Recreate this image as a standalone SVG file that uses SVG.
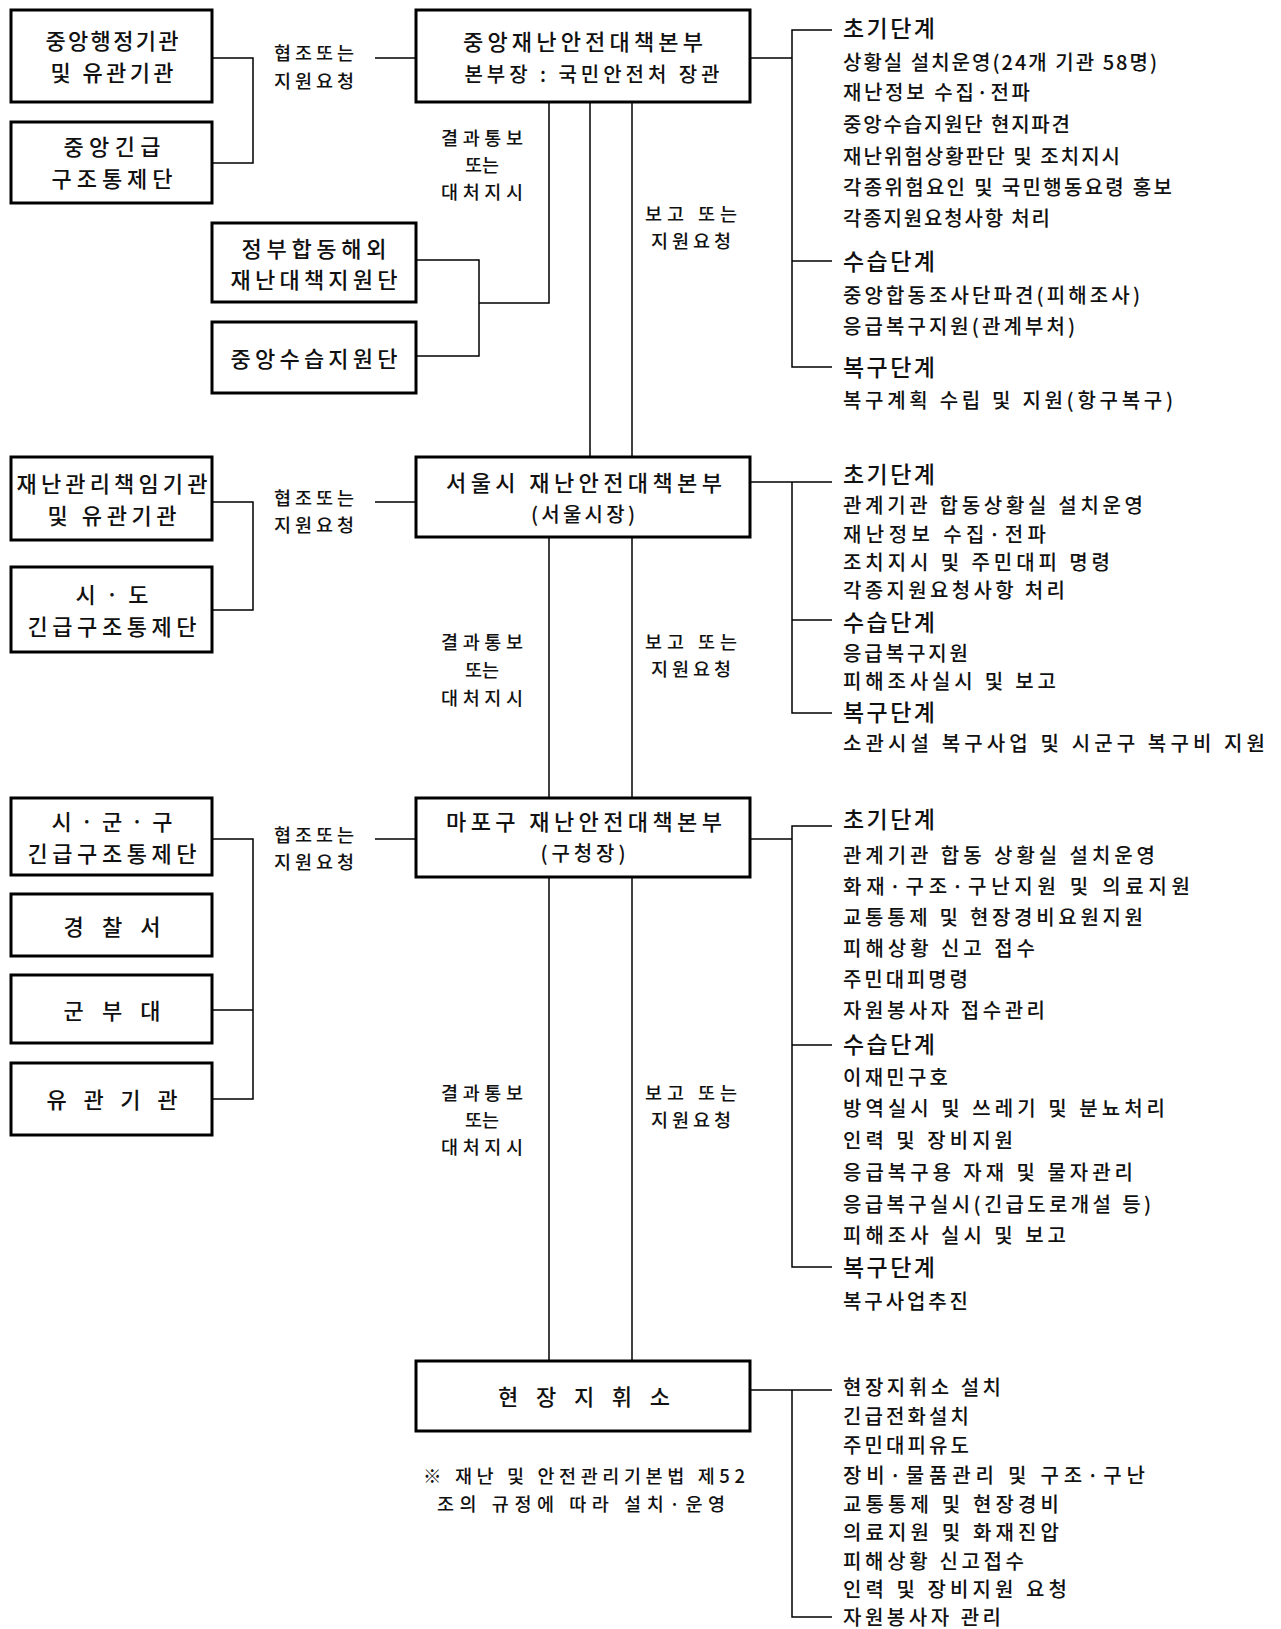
<svg xmlns="http://www.w3.org/2000/svg" width="1281" height="1629" viewBox="0 0 1281 1629">
<style>
.box{fill:#fff;stroke:#000;stroke-width:3}
.ln{stroke:#000;stroke-width:1.5;fill:none}
text{font-family:"Noto Sans CJK KR","Noto Sans",sans-serif;fill:#111;dominant-baseline:central;font-weight:500}
.bx{font-size:22px;text-anchor:middle}
.sub{font-size:20px;text-anchor:middle}
.lab{font-size:18.5px;text-anchor:middle}
.h{font-size:23px}
.it{font-size:20px}
.nt{font-size:18.5px;text-anchor:middle}
</style>
<rect width="1281" height="1629" fill="#fff"/>

<g id="connectors">
  <polyline class="ln" points="212,58 253,58 253,163 212,163"/>
  <line class="ln" x1="375" y1="58" x2="416" y2="58"/>
  <polyline class="ln" points="549,102 549,303 479,303"/>
  <polyline class="ln" points="416,260 479,260 479,356 416,356"/>
  <line class="ln" x1="590" y1="102" x2="590" y2="457"/>
  <line class="ln" x1="632" y1="102" x2="632" y2="457"/>
  <line class="ln" x1="750" y1="58" x2="792" y2="58"/>
  <polyline class="ln" points="832,30 792,30 792,367 832,367"/>
  <line class="ln" x1="792" y1="261" x2="832" y2="261"/>
  <polyline class="ln" points="212,502 253,502 253,610 212,610"/>
  <line class="ln" x1="375" y1="502" x2="416" y2="502"/>
  <line class="ln" x1="750" y1="482" x2="832" y2="482"/>
  <polyline class="ln" points="792,482 792,713 832,713"/>
  <line class="ln" x1="792" y1="620" x2="832" y2="620"/>
  <line class="ln" x1="549" y1="537" x2="549" y2="798"/>
  <line class="ln" x1="632" y1="537" x2="632" y2="798"/>
  <polyline class="ln" points="212,839 253,839 253,1099 212,1099"/>
  <line class="ln" x1="212" y1="1010" x2="253" y2="1010"/>
  <line class="ln" x1="375" y1="839" x2="416" y2="839"/>
  <line class="ln" x1="750" y1="839" x2="792" y2="839"/>
  <polyline class="ln" points="832,826 792,826 792,1267 832,1267"/>
  <line class="ln" x1="792" y1="1045" x2="832" y2="1045"/>
  <line class="ln" x1="549" y1="877" x2="549" y2="1361"/>
  <line class="ln" x1="632" y1="877" x2="632" y2="1361"/>
  <line class="ln" x1="750" y1="1390" x2="832" y2="1390"/>
  <polyline class="ln" points="792,1390 792,1617 832,1617"/>
</g>

<g id="labels">
  <text class="lab" x="314" y="52" textLength="80" lengthAdjust="spacing">협조또는</text>
  <text class="lab" x="314" y="80" textLength="80" lengthAdjust="spacing">지원요청</text>
  <text class="lab" x="482" y="137" textLength="82" lengthAdjust="spacing">결과통보</text>
  <text class="lab" x="482" y="164">또는</text>
  <text class="lab" x="482" y="191" textLength="82" lengthAdjust="spacing">대처지시</text>
  <text class="lab" x="691" y="213" textLength="92" lengthAdjust="spacing">보고 또는</text>
  <text class="lab" x="691" y="240" textLength="80" lengthAdjust="spacing">지원요청</text>

  <text class="lab" x="314" y="497" textLength="80" lengthAdjust="spacing">협조또는</text>
  <text class="lab" x="314" y="524" textLength="80" lengthAdjust="spacing">지원요청</text>
  <text class="lab" x="482" y="641" textLength="82" lengthAdjust="spacing">결과통보</text>
  <text class="lab" x="482" y="669">또는</text>
  <text class="lab" x="482" y="697" textLength="82" lengthAdjust="spacing">대처지시</text>
  <text class="lab" x="691" y="641" textLength="92" lengthAdjust="spacing">보고 또는</text>
  <text class="lab" x="691" y="668" textLength="80" lengthAdjust="spacing">지원요청</text>

  <text class="lab" x="314" y="834" textLength="80" lengthAdjust="spacing">협조또는</text>
  <text class="lab" x="314" y="861" textLength="80" lengthAdjust="spacing">지원요청</text>
  <text class="lab" x="482" y="1092" textLength="82" lengthAdjust="spacing">결과통보</text>
  <text class="lab" x="482" y="1119">또는</text>
  <text class="lab" x="482" y="1146" textLength="82" lengthAdjust="spacing">대처지시</text>
  <text class="lab" x="691" y="1092" textLength="92" lengthAdjust="spacing">보고 또는</text>
  <text class="lab" x="691" y="1119" textLength="80" lengthAdjust="spacing">지원요청</text>
</g>

<g id="n-central-admin">
  <rect class="box" x="11" y="10" width="201" height="92"/>
  <text class="bx" x="112" y="39" textLength="133" lengthAdjust="spacing">중앙행정기관</text>
  <text class="bx" x="112" y="71" textLength="123" lengthAdjust="spacing">및 유관기관</text>
</g>
<g id="n-central-rescue">
  <rect class="box" x="11" y="122" width="201" height="81"/>
  <text class="bx" x="112" y="145" textLength="97" lengthAdjust="spacing">중앙긴급</text>
  <text class="bx" x="112" y="177" textLength="121" lengthAdjust="spacing">구조통제단</text>
</g>
<g id="n-overseas">
  <rect class="box" x="212" y="223" width="204" height="79"/>
  <text class="bx" x="314" y="247" textLength="145" lengthAdjust="spacing">정부합동해외</text>
  <text class="bx" x="314" y="278" textLength="167" lengthAdjust="spacing">재난대책지원단</text>
</g>
<g id="n-central-recovery">
  <rect class="box" x="212" y="322" width="204" height="71"/>
  <text class="bx" x="314" y="357" textLength="167" lengthAdjust="spacing">중앙수습지원단</text>
</g>
<g id="n-central-hq">
  <rect class="box" x="416" y="10" width="334" height="92"/>
  <text class="bx" x="583" y="40" textLength="240" lengthAdjust="spacing">중앙재난안전대책본부</text>
  <text class="sub" x="592" y="73" textLength="255" lengthAdjust="spacing">본부장 : 국민안전처 장관</text>
</g>
<g id="n-central-tasks">
  <text class="h" x="843" y="27" textLength="92" lengthAdjust="spacing">초기단계</text>
  <text class="it" x="843" y="61" textLength="314" lengthAdjust="spacing">상황실 설치운영(24개 기관 58명)</text>
  <text class="it" x="843" y="91" textLength="187" lengthAdjust="spacing">재난정보 수집·전파</text>
  <text class="it" x="843" y="123" textLength="227" lengthAdjust="spacing">중앙수습지원단 현지파견</text>
  <text class="it" x="843" y="155" textLength="277" lengthAdjust="spacing">재난위험상황판단 및 조치지시</text>
  <text class="it" x="843" y="186" textLength="329" lengthAdjust="spacing">각종위험요인 및 국민행동요령 홍보</text>
  <text class="it" x="843" y="217" textLength="207" lengthAdjust="spacing">각종지원요청사항 처리</text>
  <text class="h" x="843" y="260" textLength="92" lengthAdjust="spacing">수습단계</text>
  <text class="it" x="843" y="294" textLength="297" lengthAdjust="spacing">중앙합동조사단파견(피해조사)</text>
  <text class="it" x="843" y="325" textLength="232" lengthAdjust="spacing">응급복구지원(관계부처)</text>
  <text class="h" x="843" y="366" textLength="92" lengthAdjust="spacing">복구단계</text>
  <text class="it" x="843" y="399" textLength="330" lengthAdjust="spacing">복구계획 수립 및 지원(항구복구)</text>
</g>

<g id="n-seoul-agencies">
  <rect class="box" x="11" y="457" width="201" height="83"/>
  <text class="bx" x="112" y="482" textLength="191" lengthAdjust="spacing">재난관리책임기관</text>
  <text class="bx" x="112" y="514" textLength="129" lengthAdjust="spacing">및 유관기관</text>
</g>
<g id="n-seoul-rescue">
  <rect class="box" x="11" y="567" width="201" height="85"/>
  <text class="bx" x="112" y="593" textLength="73" lengthAdjust="spacing">시 · 도</text>
  <text class="bx" x="112" y="625" textLength="169" lengthAdjust="spacing">긴급구조통제단</text>
</g>
<g id="n-seoul-hq">
  <rect class="box" x="416" y="457" width="334" height="80"/>
  <text class="bx" x="584" y="481" textLength="276" lengthAdjust="spacing">서울시 재난안전대책본부</text>
  <text class="sub" x="583" y="513" textLength="104" lengthAdjust="spacing">(서울시장)</text>
</g>
<g id="n-seoul-tasks">
  <text class="h" x="843" y="473" textLength="92" lengthAdjust="spacing">초기단계</text>
  <text class="it" x="843" y="504" textLength="300" lengthAdjust="spacing">관계기관 합동상황실 설치운영</text>
  <text class="it" x="843" y="533" textLength="203" lengthAdjust="spacing">재난정보 수집·전파</text>
  <text class="it" x="843" y="561" textLength="267" lengthAdjust="spacing">조치지시 및 주민대피 명령</text>
  <text class="it" x="843" y="589" textLength="222" lengthAdjust="spacing">각종지원요청사항 처리</text>
  <text class="h" x="843" y="621" textLength="92" lengthAdjust="spacing">수습단계</text>
  <text class="it" x="843" y="652" textLength="125" lengthAdjust="spacing">응급복구지원</text>
  <text class="it" x="843" y="680" textLength="213" lengthAdjust="spacing">피해조사실시 및 보고</text>
  <text class="h" x="843" y="711" textLength="92" lengthAdjust="spacing">복구단계</text>
  <text class="it" x="843" y="742" textLength="422" lengthAdjust="spacing">소관시설 복구사업 및 시군구 복구비 지원</text>
</g>

<g id="n-mapo-rescue">
  <rect class="box" x="11" y="798" width="201" height="77"/>
  <text class="bx" x="112" y="820" textLength="121" lengthAdjust="spacing">시·군·구</text>
  <text class="bx" x="112" y="852" textLength="169" lengthAdjust="spacing">긴급구조통제단</text>
</g>
<g id="n-police">
  <rect class="box" x="11" y="894" width="201" height="62"/>
  <text class="bx" x="112" y="925" textLength="97" lengthAdjust="spacing">경 찰 서</text>
</g>
<g id="n-military">
  <rect class="box" x="11" y="975" width="201" height="68"/>
  <text class="bx" x="112" y="1009" textLength="97" lengthAdjust="spacing">군 부 대</text>
</g>
<g id="n-related">
  <rect class="box" x="11" y="1063" width="201" height="72"/>
  <text class="bx" x="112" y="1098" textLength="131" lengthAdjust="spacing">유 관 기 관</text>
</g>
<g id="n-mapo-hq">
  <rect class="box" x="416" y="798" width="334" height="79"/>
  <text class="bx" x="584" y="820" textLength="276" lengthAdjust="spacing">마포구 재난안전대책본부</text>
  <text class="sub" x="583" y="852" textLength="85" lengthAdjust="spacing">(구청장)</text>
</g>
<g id="n-mapo-tasks">
  <text class="h" x="843" y="818" textLength="92" lengthAdjust="spacing">초기단계</text>
  <text class="it" x="843" y="854" textLength="312" lengthAdjust="spacing">관계기관 합동 상황실 설치운영</text>
  <text class="it" x="843" y="885" textLength="347" lengthAdjust="spacing">화재·구조·구난지원 및 의료지원</text>
  <text class="it" x="843" y="916" textLength="300" lengthAdjust="spacing">교통통제 및 현장경비요원지원</text>
  <text class="it" x="843" y="947" textLength="192" lengthAdjust="spacing">피해상황 신고 접수</text>
  <text class="it" x="843" y="978" textLength="125" lengthAdjust="spacing">주민대피명령</text>
  <text class="it" x="843" y="1009" textLength="202" lengthAdjust="spacing">자원봉사자 접수관리</text>
  <text class="h" x="843" y="1043" textLength="92" lengthAdjust="spacing">수습단계</text>
  <text class="it" x="843" y="1076" textLength="105" lengthAdjust="spacing">이재민구호</text>
  <text class="it" x="843" y="1107" textLength="322" lengthAdjust="spacing">방역실시 및 쓰레기 및 분뇨처리</text>
  <text class="it" x="843" y="1139" textLength="170" lengthAdjust="spacing">인력 및 장비지원</text>
  <text class="it" x="843" y="1171" textLength="290" lengthAdjust="spacing">응급복구용 자재 및 물자관리</text>
  <text class="it" x="843" y="1203" textLength="308" lengthAdjust="spacing">응급복구실시(긴급도로개설 등)</text>
  <text class="it" x="843" y="1234" textLength="223" lengthAdjust="spacing">피해조사 실시 및 보고</text>
  <text class="h" x="843" y="1266" textLength="92" lengthAdjust="spacing">복구단계</text>
  <text class="it" x="843" y="1300" textLength="125" lengthAdjust="spacing">복구사업추진</text>
</g>

<g id="n-field">
  <rect class="box" x="416" y="1361" width="334" height="70"/>
  <text class="bx" x="584" y="1395" textLength="172" lengthAdjust="spacing">현 장 지 휘 소</text>
</g>
<g id="n-field-note">
  <text class="nt" x="584" y="1475" textLength="322" lengthAdjust="spacing">※ 재난 및 안전관리기본법 제52</text>
  <text class="nt" x="581" y="1503" textLength="288" lengthAdjust="spacing">조의 규정에 따라 설치·운영</text>
</g>
<g id="n-field-tasks">
  <text class="it" x="843" y="1386" textLength="158" lengthAdjust="spacing">현장지휘소 설치</text>
  <text class="it" x="843" y="1415" textLength="126" lengthAdjust="spacing">긴급전화설치</text>
  <text class="it" x="843" y="1444" textLength="126" lengthAdjust="spacing">주민대피유도</text>
  <text class="it" x="843" y="1474" textLength="302" lengthAdjust="spacing">장비·물품관리 및 구조·구난</text>
  <text class="it" x="843" y="1503" textLength="216" lengthAdjust="spacing">교통통제 및 현장경비</text>
  <text class="it" x="843" y="1531" textLength="216" lengthAdjust="spacing">의료지원 및 화재진압</text>
  <text class="it" x="843" y="1560" textLength="181" lengthAdjust="spacing">피해상황 신고접수</text>
  <text class="it" x="843" y="1588" textLength="224" lengthAdjust="spacing">인력 및 장비지원 요청</text>
  <text class="it" x="843" y="1616" textLength="158" lengthAdjust="spacing">자원봉사자 관리</text>
</g>
</svg>
